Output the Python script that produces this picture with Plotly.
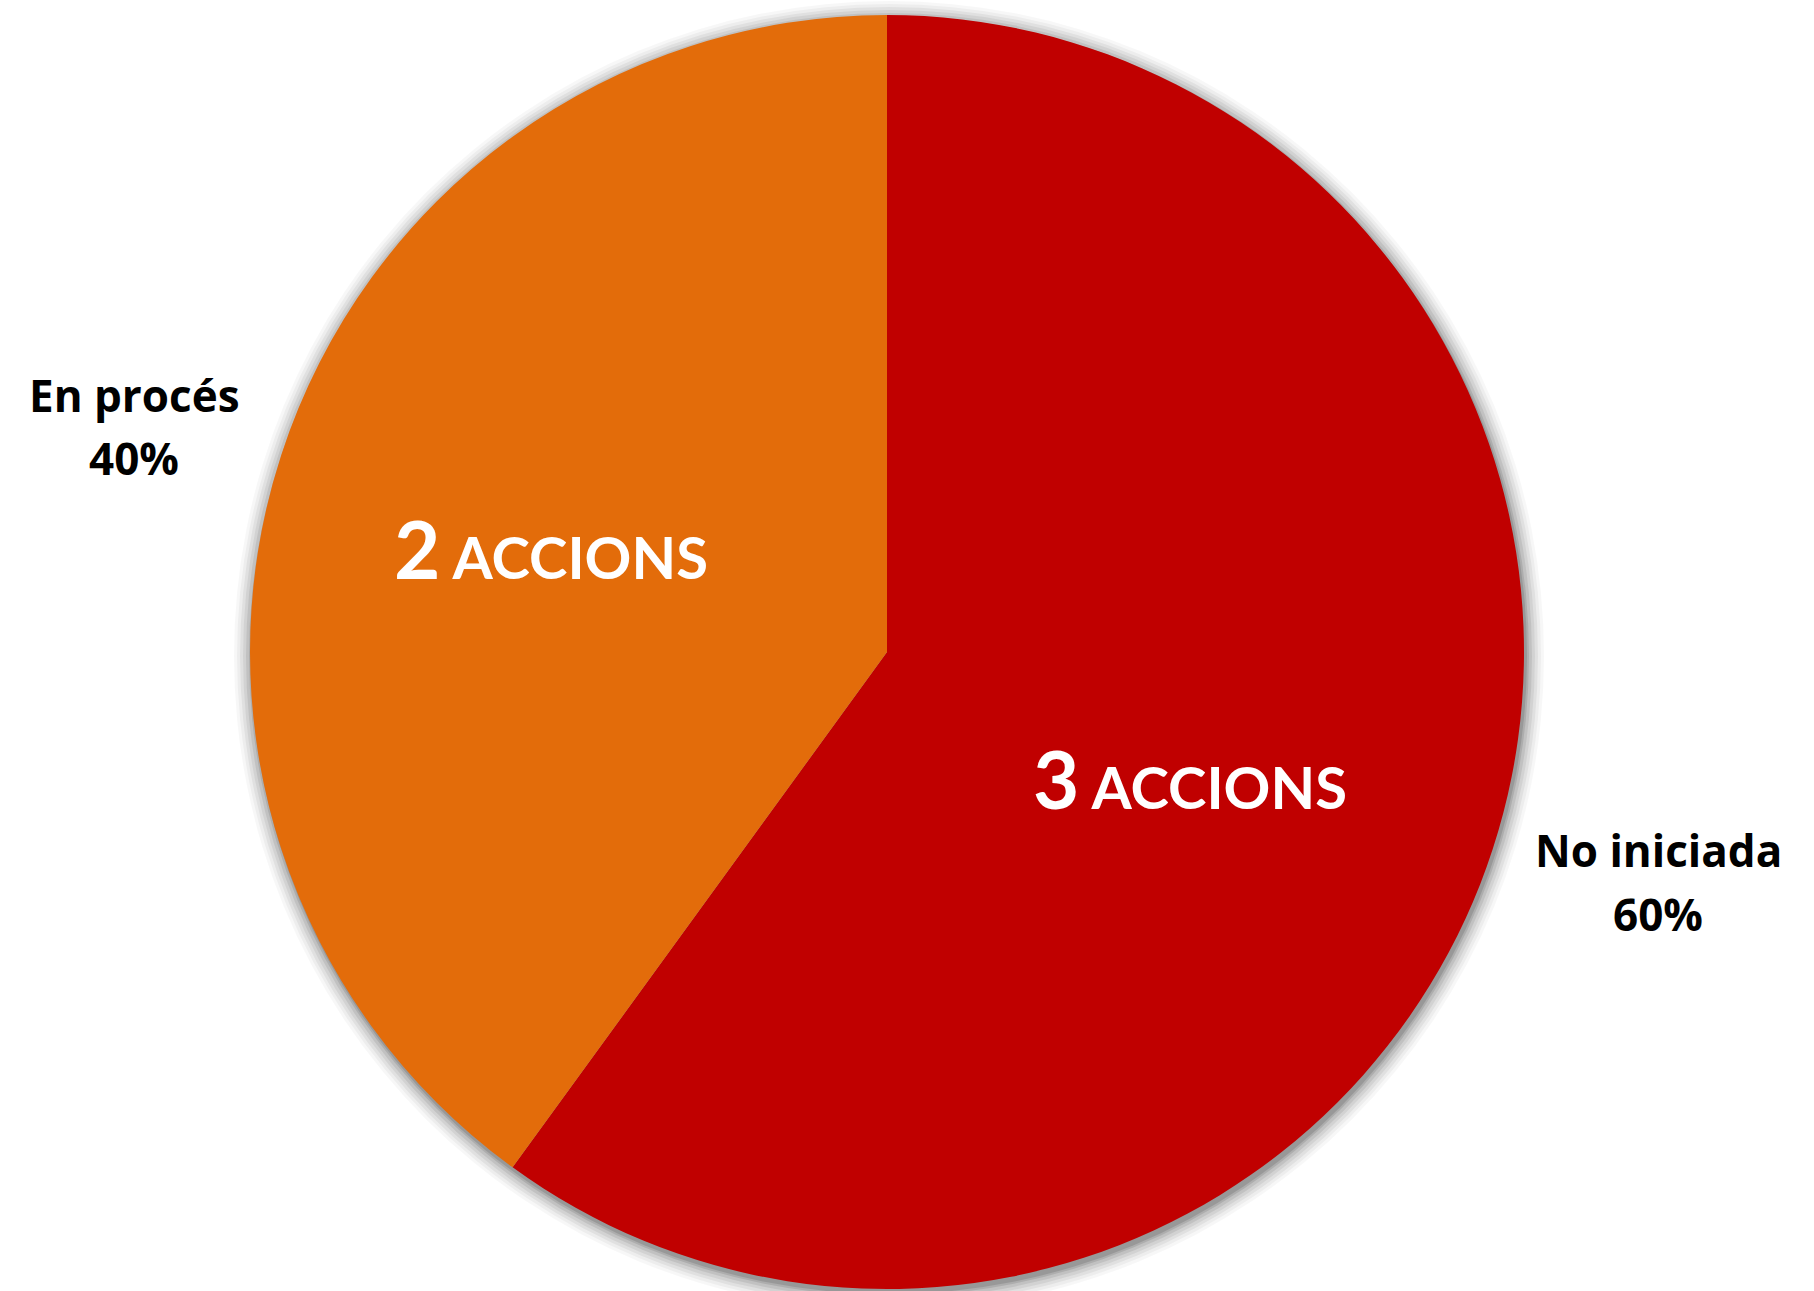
import plotly.graph_objects as go

labels = ["No iniciada", "En procés"]
values = [3, 2]
colors = ["#C00000", "#E36C0A"]
unit_word = "ACCIONS"

W, H = 1814, 1291
cx, cy, R = 887, 652, 637  # pixel geometry of the pie

total = sum(values)
pcts = [round(v / total * 100) for v in values]

fig = go.Figure()
fig.add_trace(go.Pie(
    labels=labels,
    values=values,
    sort=False,
    direction="clockwise",
    rotation=0,
    marker=dict(colors=colors, line=dict(width=0)),
    textinfo="none",
    showlegend=False,
    hoverinfo="label+percent",
    domain=dict(x=[(cx - R) / W, (cx + R) / W], y=[1 - (cy + R) / H, 1 - (cy - R) / H]),
))

# soft shadow behind pie
shapes = []
for k, op in [(18, 0.03), (15, 0.04), (12, 0.05), (9, 0.06), (6, 0.08), (3, 0.10), (1, 0.12)]:
    ox, oy = 2, 4
    shapes.append(dict(
        type="circle", xref="paper", yref="paper", layer="below",
        x0=(cx + ox - R - k) / W, x1=(cx + ox + R + k) / W,
        y0=1 - (cy + oy + R + k) / H, y1=1 - (cy + oy - R - k) / H,
        fillcolor="black", opacity=op, line=dict(width=0),
    ))

# in-slice labels (count of actions)
inside_pos = {"No iniciada": (1190, 778), "En procés": (551, 548)}
annotations = []
for lab, v in zip(labels, values):
    x, y = inside_pos[lab]
    annotations.append(dict(
        x=x / W, y=1 - y / H, xref="paper", yref="paper",
        text=f"<span style='font-size:80px'>{v}</span> {unit_word}",
        showarrow=False,
        font=dict(family="Lato", size=58, color="white", weight="bold"),
        xanchor="center", yanchor="middle",
    ))

# outside labels (category + percentage)
outside_pos = {"No iniciada": (1658, 850, 914), "En procés": (134, 395, 458)}
for lab, p in zip(labels, pcts):
    x, y1, y2 = outside_pos[lab]
    for txt, yy in [(lab, y1), (f"{p}%", y2)]:
        annotations.append(dict(
            x=x / W, y=1 - yy / H, xref="paper", yref="paper",
            text=f"<b>{txt}</b>", showarrow=False,
            font=dict(family="Open Sans", size=44, color="black"),
            xanchor="center", yanchor="middle",
        ))

fig.update_layout(
    width=W, height=H,
    margin=dict(l=0, r=0, t=0, b=0),
    paper_bgcolor="white", plot_bgcolor="white",
    shapes=shapes, annotations=annotations,
)
fig.write_html("out.html", config={"displayModeBar": False},
               post_script="document.body.style.margin='0';")
